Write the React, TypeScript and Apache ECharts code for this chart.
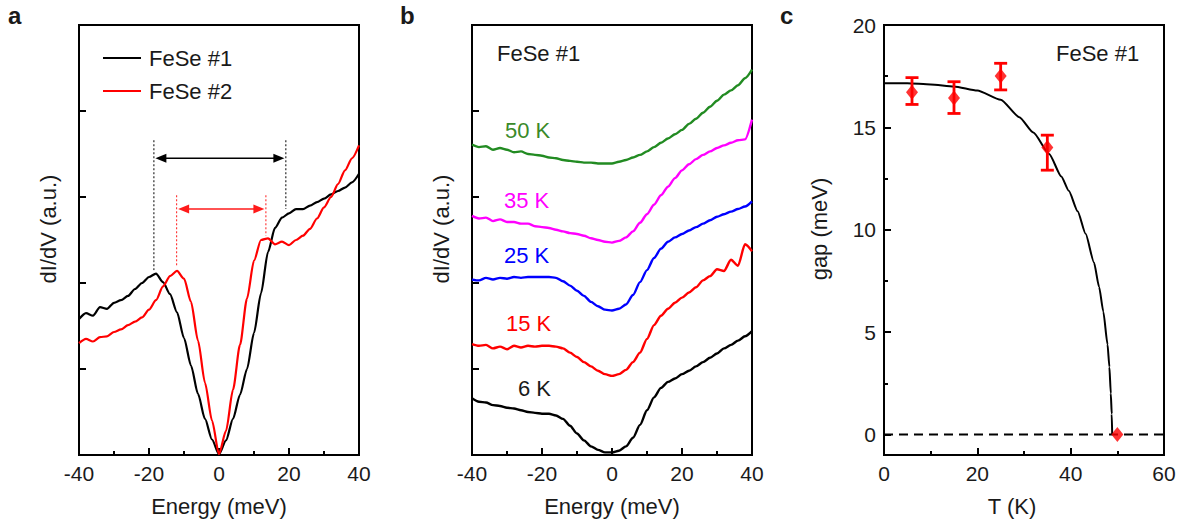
import React, { useEffect, useRef } from 'react';
import * as echarts from 'echarts';

const FONT = "'Liberation Sans', Arial, Helvetica, sans-serif";
const TXT = '#1a1a1a';

// ---------- Panel a: two samples ----------
const energy = [-40, -38, -36, -34, -32, -30, -28, -26, -24, -22, -20, -18, -16, -14, -12, -10, -8, -6, -4, -2, 0, 2, 4, 6, 8, 10, 12, 14, 16, 18, 20, 22, 24, 26, 28, 30, 32, 34, 36, 38, 40];
const fese1 = [1.58, 1.65, 1.62, 1.72, 1.70, 1.77, 1.80, 1.85, 1.93, 2.00, 2.07, 2.11, 2.01, 1.87, 1.66, 1.36, 1.04, 0.71, 0.42, 0.18, 0.01, 0.17, 0.42, 0.70, 1.00, 1.42, 1.88, 2.36, 2.64, 2.76, 2.81, 2.86, 2.86, 2.90, 2.94, 2.98, 3.03, 3.07, 3.11, 3.17, 3.27];
const fese2 = [1.30, 1.35, 1.32, 1.37, 1.38, 1.43, 1.46, 1.51, 1.55, 1.60, 1.69, 1.80, 1.96, 2.08, 2.14, 2.05, 1.78, 1.33, 0.84, 0.40, 0.01, 0.28, 0.76, 1.28, 1.82, 2.26, 2.50, 2.52, 2.45, 2.48, 2.44, 2.50, 2.55, 2.63, 2.75, 2.88, 3.00, 3.15, 3.31, 3.45, 3.60];

// gap markers (dotted verticals + double arrows)
const gapLeftX = [-18.6, -12.1];
const gapRightX = [19.1, 13.4];
const gapArrowY = [3.45, 2.86];
const gapDotTop = [3.66, 3.02];
const gapDotBottomLeft = [2.15, 2.20];
const gapDotBottomRight = [2.86, 2.55];
const gapColors = ['#000000', '#ff1a1a'];

// ---------- Panel b: temperature series (offset) ----------
const spec6K = [0.66, 0.62, 0.61, 0.58, 0.57, 0.55, 0.54, 0.52, 0.50, 0.49, 0.48, 0.48, 0.46, 0.42, 0.34, 0.25, 0.17, 0.10, 0.06, 0.03, 0.03, 0.05, 0.10, 0.20, 0.35, 0.52, 0.67, 0.78, 0.85, 0.89, 0.94, 0.98, 1.03, 1.08, 1.13, 1.18, 1.24, 1.28, 1.33, 1.38, 1.44];
const spec15K = [1.29, 1.27, 1.28, 1.24, 1.26, 1.23, 1.27, 1.25, 1.27, 1.26, 1.27, 1.27, 1.26, 1.24, 1.19, 1.14, 1.08, 1.03, 0.98, 0.94, 0.92, 0.94, 0.99, 1.08, 1.19, 1.35, 1.51, 1.62, 1.70, 1.77, 1.83, 1.89, 1.95, 2.03, 2.08, 2.16, 2.14, 2.27, 2.20, 2.45, 2.37];
const spec25K = [2.04, 2.03, 2.06, 2.04, 2.06, 2.05, 2.07, 2.06, 2.07, 2.07, 2.07, 2.07, 2.06, 2.02, 1.97, 1.91, 1.85, 1.78, 1.73, 1.69, 1.68, 1.70, 1.75, 1.86, 2.01, 2.15, 2.29, 2.40, 2.48, 2.53, 2.57, 2.61, 2.65, 2.69, 2.73, 2.77, 2.80, 2.83, 2.86, 2.89, 2.95];
const spec35K = [2.78, 2.75, 2.76, 2.72, 2.74, 2.71, 2.71, 2.69, 2.69, 2.66, 2.65, 2.64, 2.62, 2.60, 2.58, 2.57, 2.55, 2.52, 2.50, 2.48, 2.47, 2.49, 2.53, 2.60, 2.70, 2.80, 2.91, 3.02, 3.12, 3.22, 3.31, 3.38, 3.44, 3.49, 3.53, 3.57, 3.60, 3.63, 3.66, 3.67, 3.90];
const spec50K = [3.61, 3.58, 3.59, 3.55, 3.57, 3.55, 3.52, 3.53, 3.50, 3.49, 3.48, 3.46, 3.45, 3.43, 3.42, 3.41, 3.40, 3.40, 3.39, 3.39, 3.39, 3.41, 3.43, 3.46, 3.49, 3.53, 3.58, 3.63, 3.68, 3.73, 3.78, 3.85, 3.91, 3.98, 4.05, 4.12, 4.19, 4.24, 4.30, 4.38, 4.48];
const tempLabels = ['6 K', '15 K', '25 K', '35 K', '50 K'];
const tempColors = ['#000000', '#ff0000', '#0000ff', '#ff00ff', '#228b22'];

// ---------- Panel c: gap vs T ----------
const pointT = [6, 15, 25, 35, 50];
const pointGap = [16.72, 16.44, 17.51, 14.02, 0];
const errLow = [16.12, 15.68, 16.83, 12.91, 0];
const errHigh = [17.43, 17.23, 18.13, 14.62, 0];
const fitT = [0, 5, 10, 15, 20, 25, 29, 32, 35.4, 38, 39.6, 41.5, 43.2, 45, 46.1, 47, 47.9, 48.3, 48.6, 48.8, 48.9];
const fitGap = [17.15, 17.15, 17.1, 17.0, 16.8, 16.35, 15.5, 14.75, 13.7, 12.6, 11.9, 10.9, 9.8, 8.4, 7.2, 6.0, 4.4, 3.3, 2.0, 1.0, 0];
const zeroLineT = [0, 60];
const zeroLineGap = [0, 0];
const gapTicks = [0, 5, 10, 15, 20];
const gapMinorTicks = [2.5, 7.5, 12.5, 17.5];

const pairs = (xs: number[], ys: number[]) => xs.map((x, i) => [x, ys[i]]);

const tickStyle = { color: '#000', width: 2 };

function xAxisOf(gridIndex: number, min: number, max: number, interval: number, name: string, namePad: number[]) {
  return {
    type: 'value', gridIndex, min, max, interval,
    name, nameLocation: 'middle', nameGap: 40, nameMoveOverlap: false,
    nameTextStyle: { fontFamily: FONT, fontSize: 22, color: TXT, padding: namePad },
    axisLine: { show: false, onZero: false },
    axisTick: { show: true, inside: true, length: 7, lineStyle: tickStyle },
    minorTick: { show: true, splitNumber: 2, length: 4, lineStyle: tickStyle },
    axisLabel: { margin: 8, fontFamily: FONT, fontSize: 21, color: TXT },
    splitLine: { show: false }, minorSplitLine: { show: false },
  };
}

function yAxisAu(gridIndex: number) {
  return {
    type: 'value', gridIndex, min: 0, max: 5, interval: 1, position: 'left',
    name: 'dI/dV (a.u.)', nameLocation: 'middle', nameGap: 20, nameMoveOverlap: false,
    nameTextStyle: { fontFamily: FONT, fontSize: 22, color: TXT, padding: [0, 0, 0, 22] },
    axisLine: { show: false, onZero: false },
    axisTick: { show: true, inside: true, length: 7, lineStyle: tickStyle },
    axisLabel: { show: false },
    splitLine: { show: false },
  };
}

export default function App() {
  const ref = useRef<HTMLDivElement>(null);
  useEffect(() => {
    if (!ref.current) return;
    const chart = echarts.init(ref.current, null, { renderer: 'svg' });
    const gridBase = { top: 25, height: 430, width: 280, show: true, borderColor: '#000', borderWidth: 2, backgroundColor: 'transparent', containLabel: false, outerBoundsMode: 'none' };

    const lineS = (name: string, data: number[][], color: string, xi: number, yi: number, z = 2, w = 2) => ({
      type: 'line', name, data, xAxisIndex: xi, yAxisIndex: yi, symbol: 'none', showSymbol: false,
      smooth: 0.25, smoothMonotone: 'x', z,
      lineStyle: { color, width: w }, itemStyle: { color }, emphasis: { disabled: true },
    });

    const tempSeries = [spec6K, spec15K, spec25K, spec35K, spec50K].map((s, i) =>
      lineS(tempLabels[i], pairs(energy, s), tempColors[i], 1, 1, 2, 2.4));

    const option: any = {
      animation: false,
      backgroundColor: '#ffffff',
      textStyle: { fontFamily: FONT },
      grid: [
        { ...gridBase, left: 79 },
        { ...gridBase, left: 472 },
        { ...gridBase, left: 884 },
      ],
      xAxis: [
        xAxisOf(0, -40, 40, 20, 'Energy (meV)', [0, 0, 0, 0]),
        xAxisOf(1, -40, 40, 20, 'Energy (meV)', [0, 0, 0, 0]),
        xAxisOf(2, 0, 60, 20, 'T (K)', [0, 24, 0, 0]),
      ],
      yAxis: [
        yAxisAu(0),
        yAxisAu(1),
        {
          type: 'value', gridIndex: 2, min: -1, max: 20, position: 'left',
          name: 'gap (meV)', nameLocation: 'middle', nameGap: 54, nameMoveOverlap: false,
          nameTextStyle: { fontFamily: FONT, fontSize: 22, color: TXT, padding: [0, 0, 0, 22] },
          axisLine: { show: false, onZero: false },
          axisTick: { show: true, inside: true, length: 7, lineStyle: tickStyle, customValues: gapTicks },
          axisLabel: { margin: 8, fontFamily: FONT, fontSize: 21, color: TXT, customValues: gapTicks },
          splitLine: { show: false },
        },
        {
          type: 'value', gridIndex: 2, min: -1, max: 20, position: 'left',
          axisLine: { show: false, onZero: false },
          axisTick: { show: true, inside: true, length: 4, lineStyle: tickStyle, customValues: gapMinorTicks },
          axisLabel: { show: false },
          splitLine: { show: false },
        },
      ],
      legend: {
        data: ['FeSe #1', 'FeSe #2'], orient: 'vertical', left: 98, top: 42,
        icon: 'rect', itemWidth: 38, itemHeight: 2, itemGap: 11, selectedMode: false,
        textStyle: { fontFamily: FONT, fontSize: 22, color: TXT, padding: [0, 0, 0, 3] },
      },
      series: [
        {
          type: 'custom', name: 'gap markers', xAxisIndex: 0, yAxisIndex: 0, z: 1,
          encode: { x: [0, 1], y: [2, 3, 4, 5] },
          data: gapLeftX.map((x, i) => [x, gapRightX[i], gapArrowY[i], gapDotTop[i], gapDotBottomLeft[i], gapDotBottomRight[i]]),
          renderItem: (params: any, api: any) => {
            const color = gapColors[params.dataIndex];
            const xl = api.value(0), xr = api.value(1), ya = api.value(2), yt = api.value(3);
            const ybl = api.value(4), ybr = api.value(5);
            const L = api.coord([xl, ya]), R = api.coord([xr, ya]);
            const Lt = api.coord([xl, yt]), Lb = api.coord([xl, ybl]);
            const Rt = api.coord([xr, yt]), Rb = api.coord([xr, ybr]);
            const ah = 11, aw = 4.5, g = 1.5;
            const dot = { stroke: color, lineWidth: 1, lineDash: [2, 2] };
            return {
              type: 'group',
              children: [
                { type: 'line', shape: { x1: Lt[0], y1: Lt[1], x2: Lb[0], y2: Lb[1] }, style: dot },
                { type: 'line', shape: { x1: Rt[0], y1: Rt[1], x2: Rb[0], y2: Rb[1] }, style: dot },
                { type: 'line', shape: { x1: L[0] + g + ah - 2, y1: L[1], x2: R[0] - g - ah + 2, y2: R[1] }, style: { stroke: color, lineWidth: 1.5 } },
                { type: 'polygon', shape: { points: [[L[0] + g, L[1]], [L[0] + g + ah, L[1] - aw], [L[0] + g + ah, L[1] + aw]] }, style: { fill: color } },
                { type: 'polygon', shape: { points: [[R[0] - g, R[1]], [R[0] - g - ah, R[1] - aw], [R[0] - g - ah, R[1] + aw]] }, style: { fill: color } },
              ],
            };
          },
        },
        lineS('FeSe #1', pairs(energy, fese1), '#000000', 0, 0, 3, 2.2),
        lineS('FeSe #2', pairs(energy, fese2), '#ff0000', 0, 0, 4, 2.2),
        ...tempSeries,
        {
          type: 'line', name: 'zero', data: pairs(zeroLineT, zeroLineGap), xAxisIndex: 2, yAxisIndex: 2,
          symbol: 'none', lineStyle: { color: '#000', width: 2, type: [9, 6] }, z: 2,
        },
        {
          type: 'line', name: 'fit', data: pairs(fitT, fitGap), xAxisIndex: 2, yAxisIndex: 2,
          symbol: 'none', smooth: 0.2, smoothMonotone: 'x', lineStyle: { color: '#000', width: 2 }, z: 3,
        },
        {
          type: 'custom', name: 'error', xAxisIndex: 2, yAxisIndex: 2, z: 4,
          encode: { x: 0, y: [1, 2, 3] },
          data: pointT.slice(0, 4).map((t, i) => [t, pointGap[i], errLow[i], errHigh[i]]),
          renderItem: (params: any, api: any) => {
            const t = api.value(0);
            const lo = api.coord([t, api.value(2)]);
            const hi = api.coord([t, api.value(3)]);
            const cw = 6.5;
            const st = { stroke: '#ff0000', lineWidth: 2.8 };
            return {
              type: 'group',
              children: [
                { type: 'line', shape: { x1: lo[0], y1: lo[1], x2: hi[0], y2: hi[1] }, style: st },
                { type: 'line', shape: { x1: lo[0] - cw, y1: lo[1], x2: lo[0] + cw, y2: lo[1] }, style: st },
                { type: 'line', shape: { x1: hi[0] - cw, y1: hi[1], x2: hi[0] + cw, y2: hi[1] }, style: st },
              ],
            };
          },
        },
        {
          type: 'scatter', name: 'gap', data: pairs(pointT, pointGap), xAxisIndex: 2, yAxisIndex: 2,
          symbol: 'diamond', symbolSize: [12, 15], itemStyle: { color: '#ff0000' }, z: 5,
        },
      ],
      graphic: [
        { type: 'text', x: 8, y: 15, style: { text: 'a', font: `bold 24px ${FONT}`, fill: TXT, verticalAlign: 'middle' } },
        { type: 'text', x: 400, y: 15, style: { text: 'b', font: `bold 24px ${FONT}`, fill: TXT, verticalAlign: 'middle' } },
        { type: 'text', x: 780, y: 15, style: { text: 'c', font: `bold 24px ${FONT}`, fill: TXT, verticalAlign: 'middle' } },
        { type: 'text', x: 497, y: 53, style: { text: 'FeSe #1', font: `22px ${FONT}`, fill: TXT, verticalAlign: 'middle' } },
        { type: 'text', x: 1056, y: 53, style: { text: 'FeSe #1', font: `22px ${FONT}`, fill: TXT, verticalAlign: 'middle' } },
        { type: 'text', x: 505, y: 130, style: { text: tempLabels[4], font: `22px ${FONT}`, fill: '#3a8a2a', verticalAlign: 'middle' } },
        { type: 'text', x: 504, y: 200, style: { text: tempLabels[3], font: `22px ${FONT}`, fill: tempColors[3], verticalAlign: 'middle' } },
        { type: 'text', x: 504, y: 255, style: { text: tempLabels[2], font: `22px ${FONT}`, fill: tempColors[2], verticalAlign: 'middle' } },
        { type: 'text', x: 506, y: 323, style: { text: tempLabels[1], font: `22px ${FONT}`, fill: tempColors[1], verticalAlign: 'middle' } },
        { type: 'text', x: 518, y: 388, style: { text: tempLabels[0], font: `22px ${FONT}`, fill: TXT, verticalAlign: 'middle' } },
      ],
    };
    chart.setOption(option);
    return () => chart.dispose();
  }, []);
  return (
    <div
      ref={ref}
      style={{ position: 'fixed', left: 0, top: 0, width: 1181, height: 525, background: '#ffffff' }}
    />
  );
}
